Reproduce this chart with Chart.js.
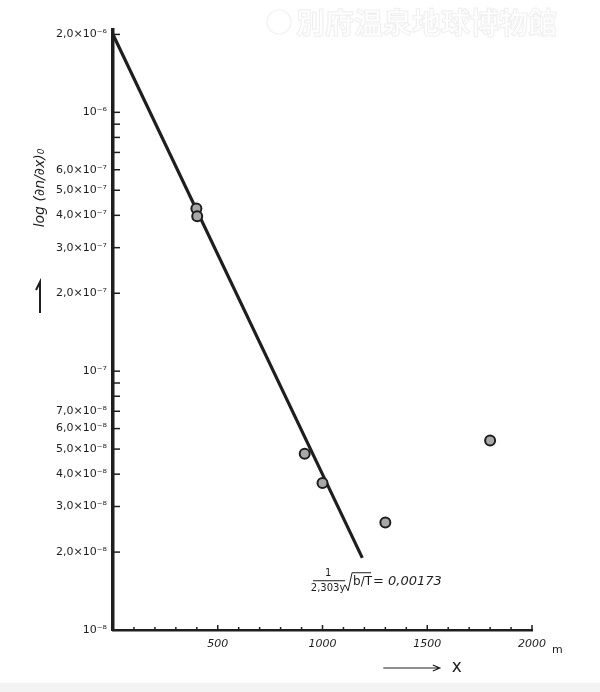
<!DOCTYPE html>
<html>
<head>
<meta charset="utf-8">
<script src="https://cdn.jsdelivr.net/npm/chart.js@4.4.0/dist/chart.umd.min.js"></script>
<style>
  html, body { margin: 0; padding: 0; background: #fff; }
  #wrap { width: 600px; height: 692px; }
</style>
</head>
<body>
<div id="wrap"><canvas id="myChart" width="600" height="692"></canvas></div>
<script>
// fitted line (log10 slope 0.00173 per m)
const lineX = [0, 1190];
const lineY = [2.0e-6, 1.9e-8];

// measured points
const pointX = [398, 402, 915, 1000, 1300, 1800];
const pointY = [4.25e-7, 3.97e-7, 4.8e-8, 3.7e-8, 2.6e-8, 5.4e-8];

// y ticks (log), labelled ones only get text
const yTickValues = [1e-8, 2e-8, 3e-8, 4e-8, 5e-8, 6e-8, 7e-8, 8e-8, 9e-8,
                     1e-7, 2e-7, 3e-7, 4e-7, 5e-7, 6e-7, 7e-7, 8e-7, 9e-7,
                     1e-6, 2e-6];
const yTickLabels = ['10⁻⁸', '2,0×10⁻⁸', '3,0×10⁻⁸', '4,0×10⁻⁸', '5,0×10⁻⁸', '6,0×10⁻⁸', '7,0×10⁻⁸', '', '',
                     '10⁻⁷', '2,0×10⁻⁷', '3,0×10⁻⁷', '4,0×10⁻⁷', '5,0×10⁻⁷', '6,0×10⁻⁷', '', '', '',
                     '10⁻⁶', '2,0×10⁻⁶'];

// x ticks every 100 m, labels every 500
const xMin = 0, xMax = 2000, xStep = 100;
const xTickLabels = {500: '500', 1000: '1000', 1500: '1500', 2000: '2000'};

const ink = '#1e1e1e';
const handFont = 'DejaVu Sans';

const paperPlugin = {
  id: 'paper',
  beforeDraw(chart) {
    const c = chart.ctx;
    c.save();
    c.fillStyle = '#ffffff';
    c.fillRect(0, 0, chart.width, chart.height);
    c.fillStyle = '#f3f3f3';
    c.fillRect(0, 683, chart.width, chart.height - 683);
    // faint watermark
    c.font = 'bold 29px "Noto Sans CJK JP"';
    c.textBaseline = 'middle';
    c.strokeStyle = '#f0f0f0';
    c.lineWidth = 1.2;
    c.beginPath();
    c.arc(279, 22, 12, 0, Math.PI * 2);
    c.stroke();
    c.strokeText('別府温泉地球博物館', 296, 23);
    c.restore();
  }
};

const handPlugin = {
  id: 'hand',
  afterDraw(chart) {
    const c = chart.ctx;
    const xs = chart.scales.x, ys = chart.scales.y;
    const x0 = xs.left, y0 = ys.bottom;
    c.save();
    c.strokeStyle = ink;
    c.fillStyle = ink;
    c.lineWidth = 1.5;
    // y tick marks pointing into the plot
    yTickValues.forEach(v => {
      const py = ys.getPixelForValue(v);
      c.beginPath();
      c.moveTo(x0, py);
      c.lineTo(x0 + 7, py);
      c.stroke();
    });
    // x tick marks pointing up
    for (let v = xMin + xStep; v <= xMax; v += xStep) {
      const px = xs.getPixelForValue(v);
      const len = (v % 500 === 0) ? 5 : 3;
      c.beginPath();
      c.moveTo(px, y0);
      c.lineTo(px, y0 - len);
      c.stroke();
    }
    // unit
    c.font = '11px ' + handFont;
    c.textAlign = 'left';
    c.textBaseline = 'middle';
    c.fillText('m', xs.getPixelForValue(2000) + 20, y0 + 20);

    // x direction arrow
    const ax = xs.getPixelForValue(1290), bx = xs.getPixelForValue(1560), ay = y0 + 38;
    c.lineWidth = 1.2;
    c.beginPath();
    c.moveTo(ax, ay);
    c.lineTo(bx, ay);
    c.moveTo(bx - 7, ay - 3);
    c.lineTo(bx, ay);
    c.lineTo(bx - 7, ay + 3);
    c.stroke();
    c.font = '17px ' + handFont;
    c.fillText('x', bx + 12, ay);

    // y axis title and arrow
    c.save();
    c.translate(40, 188);
    c.rotate(-Math.PI / 2);
    c.font = 'italic 14px ' + handFont;
    c.textAlign = 'center';
    c.fillText('log (∂n/∂x)₀', 0, 0);
    c.restore();
    c.lineWidth = 2;
    c.beginPath();
    c.moveTo(40, 313);
    c.lineTo(40, 282);
    c.lineTo(36, 290);
    c.stroke();

    // slope annotation
    const fx = xs.getPixelForValue(955), fy = ys.getPixelForValue(1.55e-8);
    c.lineWidth = 1;
    c.font = '10px ' + handFont;
    c.textAlign = 'center';
    c.fillText('1', fx + 15, fy - 7);
    c.beginPath();
    c.moveTo(fx, fy);
    c.lineTo(fx + 32, fy);
    c.stroke();
    c.fillText('2,303y', fx + 15, fy + 8);
    // root sign
    c.beginPath();
    c.moveTo(fx + 32, fy + 4);
    c.lineTo(fx + 35, fy + 10);
    c.lineTo(fx + 39, fy - 8);
    c.lineTo(fx + 58, fy - 8);
    c.stroke();
    c.textAlign = 'left';
    c.font = '12px ' + handFont;
    c.fillText('b/T', fx + 40, fy + 1);
    c.font = 'italic 13px ' + handFont;
    c.fillText('= 0,00173', fx + 60, fy + 1);
    c.restore();
  }
};

const ctx = document.getElementById('myChart').getContext('2d');
const myChart = new Chart(ctx, {
  data: {
    datasets: [
      {
        type: 'line',
        data: lineX.map((x, i) => ({x: x, y: lineY[i]})),
        borderColor: ink,
        borderWidth: 3.2,
        pointRadius: 0,
        fill: false,
        order: 2
      },
      {
        type: 'scatter',
        data: pointX.map((x, i) => ({x: x, y: pointY[i]})),
        pointRadius: 5,
        pointBackgroundColor: '#a8a8a8',
        pointBorderColor: ink,
        pointBorderWidth: 2,
        order: 1
      }
    ]
  },
  options: {
    responsive: false,
    animation: false,
    events: [],
    layout: { padding: { top: 30, right: 68, left: 0, bottom: 0 } },
    plugins: { legend: { display: false }, tooltip: { enabled: false } },
    scales: {
      x: {
        type: 'linear',
        min: xMin,
        max: xMax,
        afterBuildTicks: scale => {
          const t = [];
          for (let v = xMin; v <= xMax; v += xStep) t.push({value: v});
          scale.ticks = t;
        },
        afterFit: scale => { scale.height = 62; },
        ticks: {
          autoSkip: false,
          maxRotation: 0,
          padding: 8,
          color: ink,
          font: { family: handFont, size: 11, style: 'italic' },
          callback: v => xTickLabels[v] || ''
        },
        grid: { display: false, drawTicks: false },
        border: { color: ink, width: 2.5 }
      },
      y: {
        type: 'logarithmic',
        min: 1e-8,
        max: 2.08e-6,
        afterBuildTicks: scale => {
          scale.ticks = yTickValues.map(v => ({value: v}));
        },
        afterFit: scale => { scale.width = 113; },
        ticks: {
          autoSkip: false,
          padding: 6,
          color: ink,
          font: { family: handFont, size: 11 },
          callback: (v, i) => yTickLabels[i]
        },
        grid: { display: false, drawTicks: false },
        border: { color: ink, width: 3.5 }
      }
    }
  },
  plugins: [paperPlugin, handPlugin]
});
</script>
</body>
</html>
